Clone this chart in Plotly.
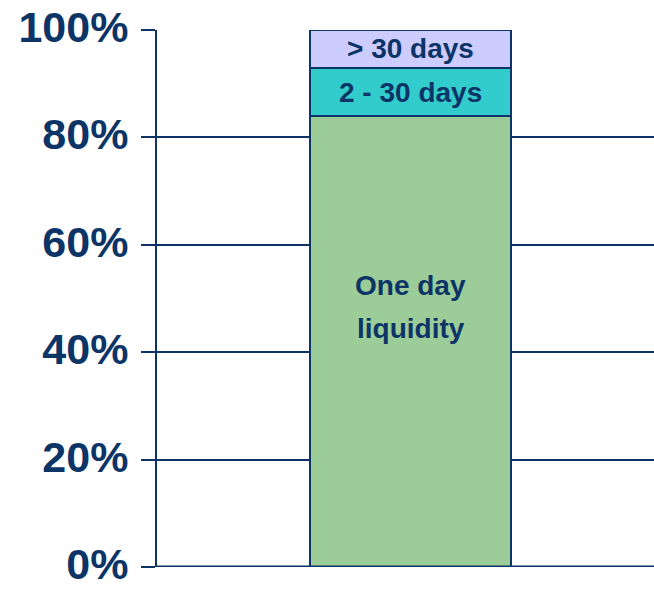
import plotly.graph_objects as go

categories = ["Liquidity"]
segment_names = ["One day liquidity", "2 - 30 days", "> 30 days"]
segment_values = [84, 9, 7]
segment_colors = ["#9ccc98", "#33cccc", "#ccccff"]
tick_vals = [0, 20, 40, 60, 80, 100]
tick_text = ["0%", "20%", "40%", "60%", "80%", "100%"]

NAVY = "#0d3466"
FONT = "Liberation Sans, Arial, sans-serif"

fig = go.Figure()
for name, val, col in zip(segment_names, segment_values, segment_colors):
    fig.add_trace(go.Bar(
        x=[0], y=[val], name=name, width=1,
        marker=dict(color=col, line=dict(color=NAVY, width=2)),
        hoverinfo="skip",
    ))

annots = [
    ("One day", 52.4),
    ("liquidity", 44.4),
    ("2 - 30 days", 88.3),
    ("> 30 days", 96.6),
]
for txt, yv in annots:
    fig.add_annotation(x=0, y=yv, text="<b>" + txt + "</b>", showarrow=False,
                       xanchor="center", yanchor="middle",
                       font=dict(family=FONT, size=28, color=NAVY))

fig.update_layout(
    barmode="stack",
    width=654, height=589,
    margin=dict(l=157, r=0, t=30, b=22),
    plot_bgcolor="white", paper_bgcolor="white",
    showlegend=False,
    bargap=0,
    xaxis=dict(range=[-1.261, 1.211], showticklabels=False, showgrid=False,
               zeroline=False, showline=False, fixedrange=True, automargin=False),
    yaxis=dict(range=[0, 100], tickvals=tick_vals,
               ticktext=["<b>" + t + "</b>" for t in tick_text],
               showgrid=True, gridcolor=NAVY, gridwidth=2,
               showline=True, linecolor=NAVY, linewidth=2,
               ticks="outside", ticklen=14, tickwidth=2, tickcolor=NAVY,
               zeroline=False, automargin=False,
               ticklabeloverflow="allow",
               ticklabelshift=-3,
               tickfont=dict(family=FONT, size=43, color=NAVY),
               ticklabelstandoff=4),
)

fig.add_shape(type="line", xref="paper", yref="y", x0=0, x1=1, y0=0, y1=0,
              line=dict(color=NAVY, width=3))

fig.write_html("out.html")
